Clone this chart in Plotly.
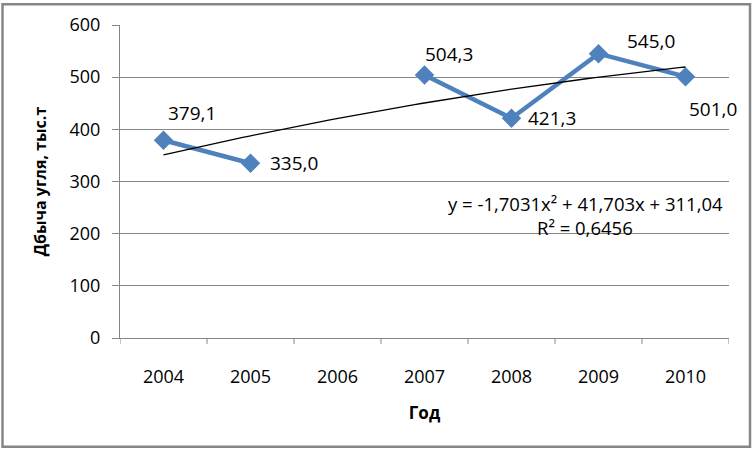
import numpy as np
import plotly.graph_objects as go

years = ["2004", "2005", "2006", "2007", "2008", "2009", "2010"]
values = [379.1, 335.0, None, 504.3, 421.3, 545.0, 501.0]
labels = ["379,1", "335,0", "", "504,3", "421,3", "545,0", "501,0"]
y_ticks = [0, 100, 200, 300, 400, 500, 600]

W, H = 753, 451
L, R, T, B = 120, 24, 23, 112.5
pw, ph = W - L - R, H - T - B

FONT = "Open Sans"
GRAY = "#868686"
BLUE = "#4F81BD"

xi = np.arange(len(years))
fig = go.Figure()
fig.add_trace(go.Scatter(
    x=xi, y=values, mode="lines+markers", connectgaps=False,
    line=dict(color=BLUE, width=4.5),
    marker=dict(symbol="diamond", size=15, color=BLUE),
    hoverinfo="skip", showlegend=False))

# polynomial trendline (order 2) fitted on the existing points, x = 1..7
px = np.array([i + 1 for i, v in enumerate(values) if v is not None], float)
py = np.array([v for v in values if v is not None], float)
coef = np.polyfit(px, py, 2)
pred = np.polyval(coef, px)
r2 = 1 - np.sum((py - pred) ** 2) / np.sum((py - py.mean()) ** 2)
tx = np.linspace(1, 7, 80)
fig.add_trace(go.Scatter(
    x=tx - 1, y=np.polyval(coef, tx), mode="lines",
    line=dict(color="black", width=1.3), hoverinfo="skip", showlegend=False))

# data labels (offsets in pixels as placed in the reference)
offsets = [(28, -27), (43, 0), None, (24, -21), (40, 0), (52, -13), (27, 32)]
for i, (lab, v, off) in enumerate(zip(labels, values, offsets)):
    if v is None:
        continue
    fig.add_annotation(x=xi[i], y=v, text=lab, showarrow=False,
                       xshift=off[0], yshift=-off[1],
                       font=dict(family=FONT, size=19, color="black"))

def fmt(v, d):
    return f"{v:.{d}f}".replace(".", ",")

eq1 = f"y = {fmt(coef[0], 4)}x² + {fmt(coef[1], 3)}x + {fmt(coef[2], 2)}"
eq2 = f"R² = {fmt(r2, 4)}"
for txt, yp in [(eq1, 203), (eq2, 227)]:
    fig.add_annotation(xref="paper", yref="paper",
                       x=(585 - L) / pw, y=1 - (yp - T) / ph, text=txt,
                       xanchor="center", yanchor="middle",
                       showarrow=False, align="center",
                       font=dict(family=FONT, size=18.5, color="black"))

# outer chart border
fig.add_shape(type="rect", xref="paper", yref="paper",
              x0=(2.5 - L) / pw, x1=(750 - L) / pw,
              y0=-(448 - (H - B)) / ph, y1=1 + (T - 2) / ph,
              line=dict(color=GRAY, width=2.5), layer="below")

fig.update_layout(
    width=W, height=H, margin=dict(l=L, r=R, t=T, b=B),
    paper_bgcolor="white", plot_bgcolor="white",
    font=dict(family=FONT, size=18, color="black"),
    xaxis=dict(range=[-0.5, len(years) - 0.5], tickvals=list(xi), ticktext=years,
               showgrid=False, zeroline=False, showline=True, linecolor=GRAY,
               linewidth=1, ticks="", tickfont=dict(size=18),
               ticklabelstandoff=22,
               title=dict(text="<b>Год</b>", font=dict(size=17), standoff=20)),
    yaxis=dict(range=[0, 600], tickvals=y_ticks, showgrid=True, gridcolor=GRAY,
               gridwidth=1, zeroline=False, showline=True, linecolor=GRAY,
               linewidth=1, ticks="outside", ticklen=7, tickcolor=GRAY,
               tickfont=dict(size=18), ticklabelstandoff=8,
               title=dict(text="<b>Дбыча угля, тыс.т</b>", font=dict(size=16),
                          standoff=18)),
)

# x tick marks at category boundaries
for k in range(len(years) + 1):
    fig.add_shape(type="line", xref="x", yref="paper", x0=k - 0.5, x1=k - 0.5,
                  y0=0, y1=-6 / ph, line=dict(color=GRAY, width=1))

fig.write_html("out.html", config={"displayModeBar": False},
               post_script="document.body.style.margin='0';")
